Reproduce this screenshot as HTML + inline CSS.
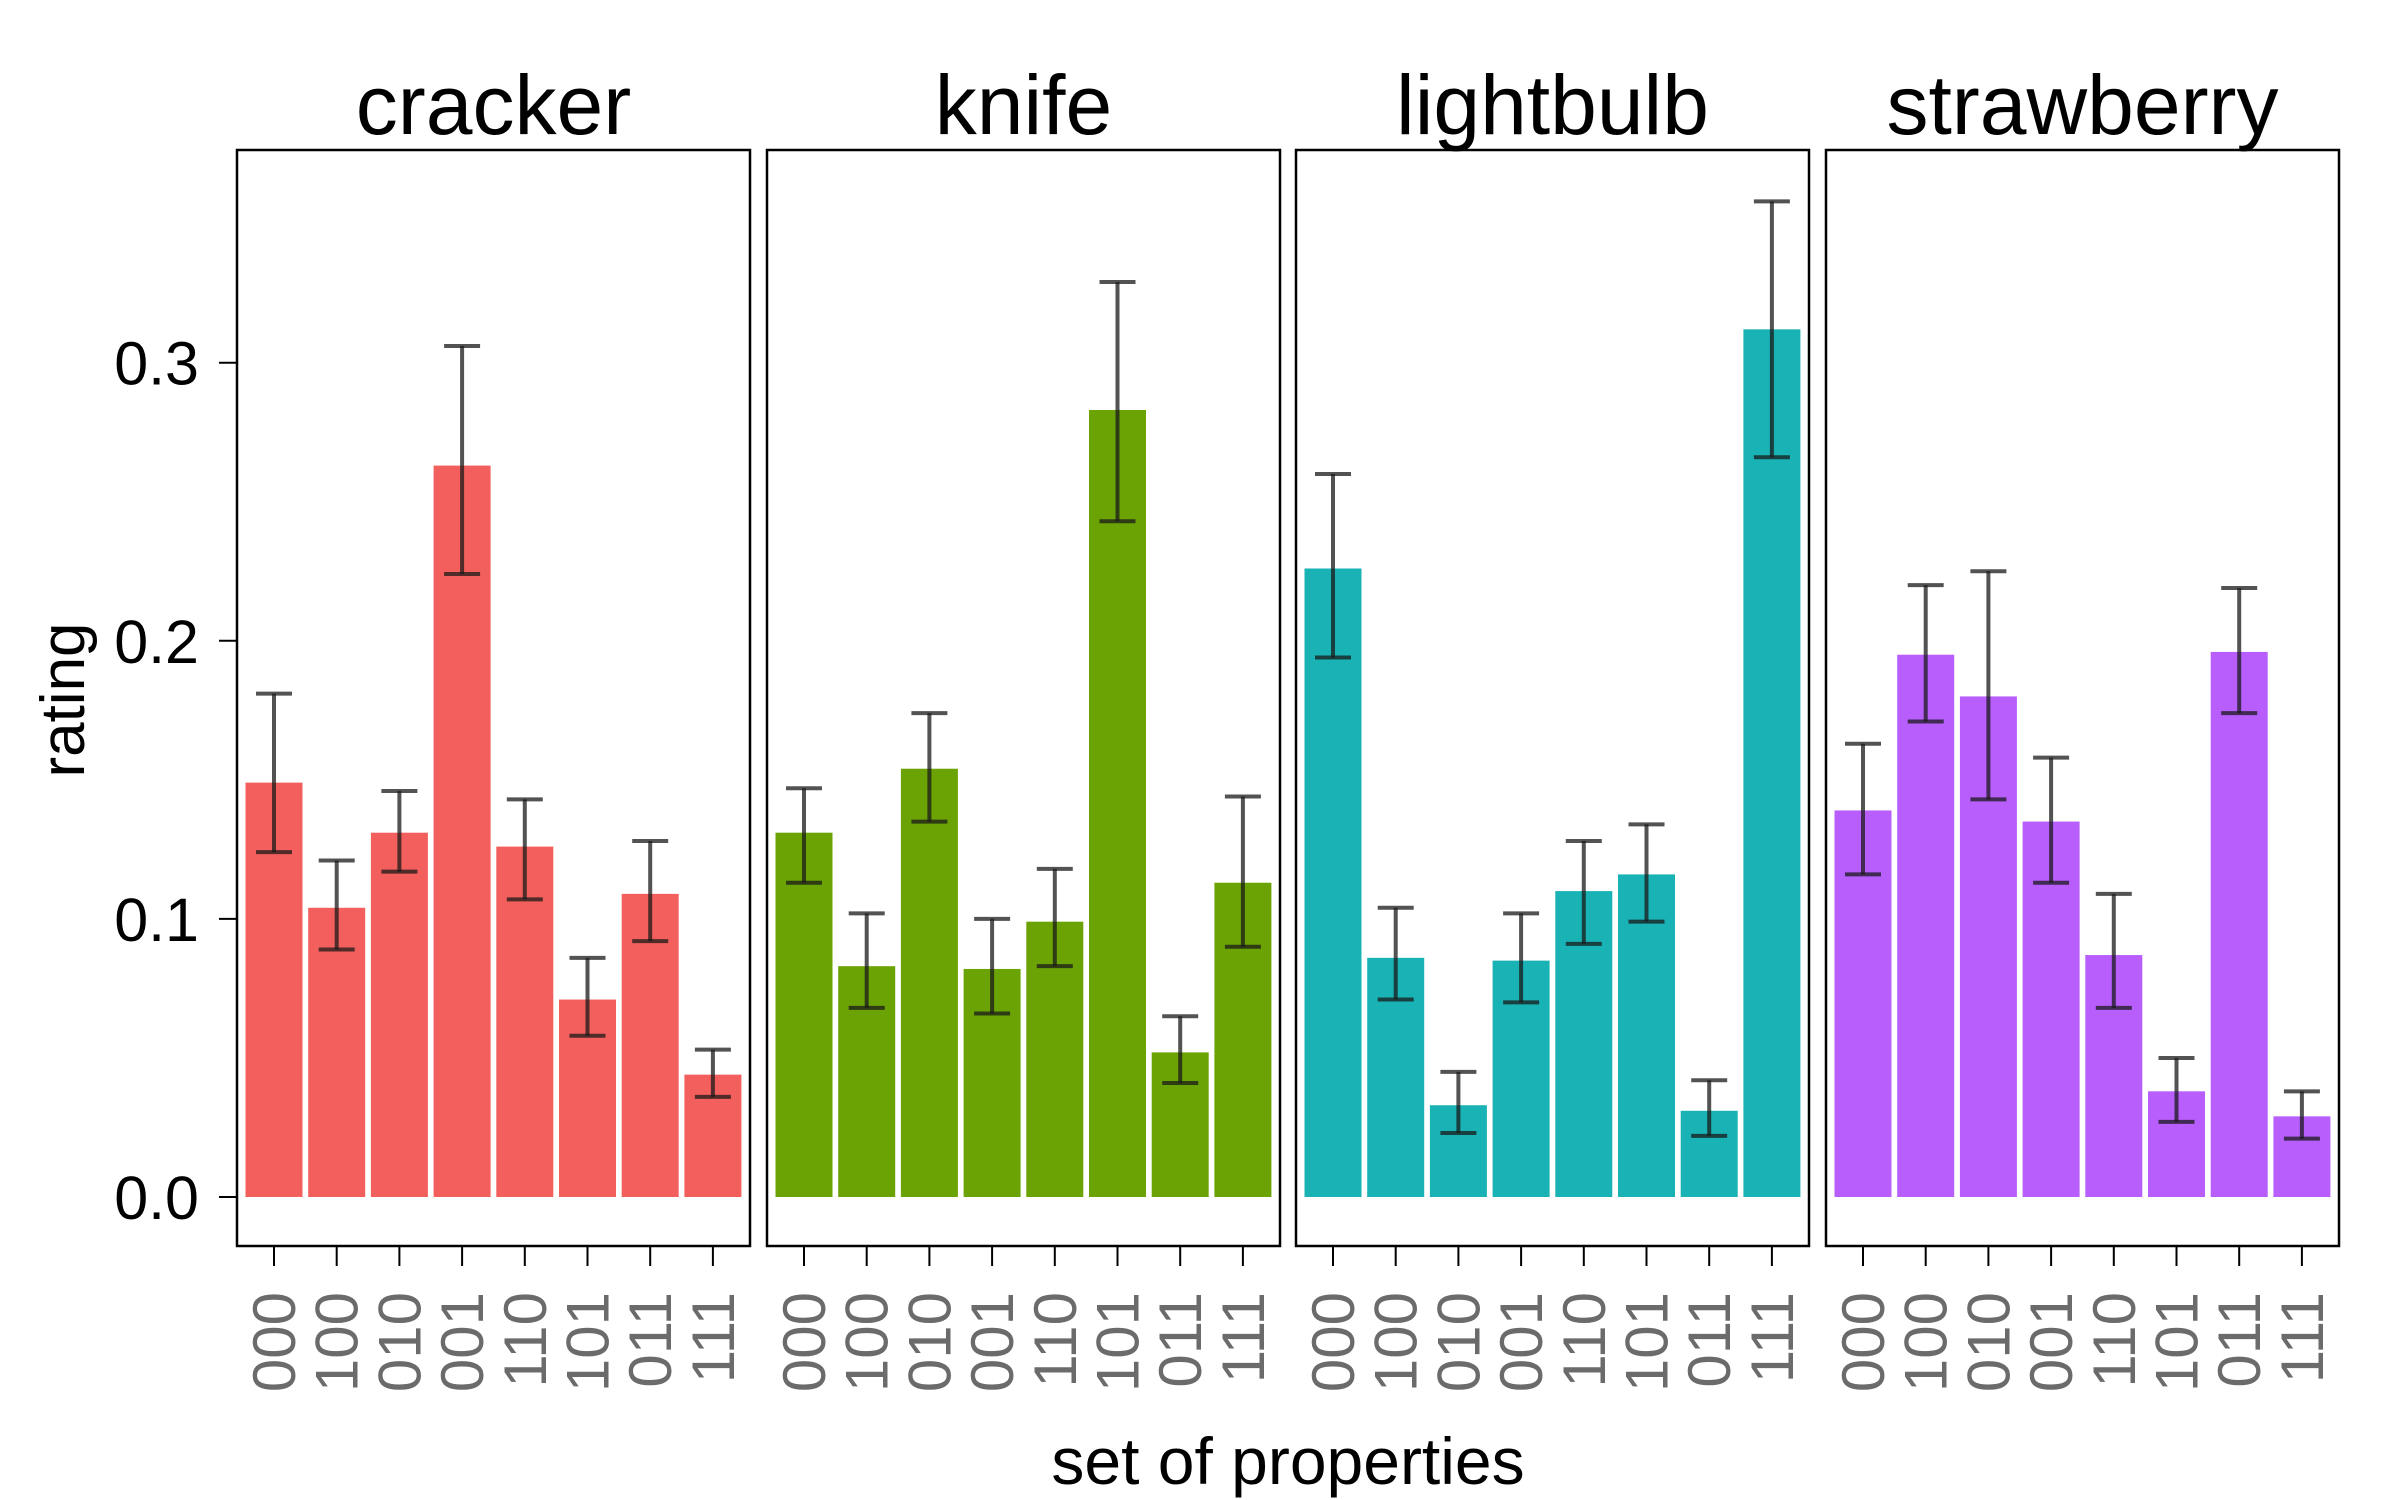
<!DOCTYPE html>
<html><head><meta charset="utf-8"><style>
html,body{margin:0;padding:0;background:#fff;}
svg{display:block;font-family:"Liberation Sans",sans-serif;}
</style></head><body>
<svg id="chart" width="2400" height="1500" viewBox="0 0 2400 1500" xmlns="http://www.w3.org/2000/svg"></svg>
<script>
const panels = ["cracker","knife","lightbulb","strawberry"];
const categories = ["000","100","010","001","110","101","011","111"];
const colors = ["#f25f5c","#6ba304","#19b3b6","#b75efd"];
const crackerVals = [0.149,0.104,0.131,0.263,0.126,0.071,0.109,0.044];
const crackerLo = [0.124,0.089,0.117,0.224,0.107,0.058,0.092,0.036];
const crackerHi = [0.181,0.121,0.146,0.306,0.143,0.086,0.128,0.053];
const knifeVals = [0.131,0.083,0.154,0.082,0.099,0.283,0.052,0.113];
const knifeLo = [0.113,0.068,0.135,0.066,0.083,0.243,0.041,0.090];
const knifeHi = [0.147,0.102,0.174,0.100,0.118,0.329,0.065,0.144];
const lightbulbVals = [0.226,0.086,0.033,0.085,0.110,0.116,0.031,0.312];
const lightbulbLo = [0.194,0.071,0.023,0.070,0.091,0.099,0.022,0.266];
const lightbulbHi = [0.260,0.104,0.045,0.102,0.128,0.134,0.042,0.358];
const strawberryVals = [0.139,0.195,0.180,0.135,0.087,0.038,0.196,0.029];
const strawberryLo = [0.116,0.171,0.143,0.113,0.068,0.027,0.174,0.021];
const strawberryHi = [0.163,0.220,0.225,0.158,0.109,0.050,0.219,0.038];
const yTicks = [0.0,0.1,0.2,0.3];
const yTickLabels = ["0.0","0.1","0.2","0.3"];

const vals=[crackerVals,knifeVals,lightbulbVals,strawberryVals];
const los=[crackerLo,knifeLo,lightbulbLo,strawberryLo];
const his=[crackerHi,knifeHi,lightbulbHi,strawberryHi];

const svg=document.getElementById('chart');
const NS="http://www.w3.org/2000/svg";
function mk(tag,attrs,parent){const e=document.createElementNS(NS,tag);for(const k in attrs)e.setAttribute(k,attrs[k]);(parent||svg).appendChild(e);return e;}
const panelLeft=[237,767,1296,1826], panelW=513, panelTop=150, panelBottom=1246;
const y0=1197, yPerUnit=(1197-362.7)/0.3;
function yScale(v){return y0-v*yPerUnit;}
const slot=62.7, barW=57;
function xScale(p,i){return panelLeft[p]+37+i*slot;}

yTicks.forEach((t,i)=>{
  const y=yScale(t);
  const tk=mk('line',{x1:219,x2:237,y1:y,y2:y,stroke:'#000','stroke-width':2});
  
  
  const tx=mk('text',{x:199,y:y+22,'text-anchor':'end','font-size':61,fill:'#000'});
  tx.textContent=yTickLabels[i];
  
  
});
const yt=mk('text',{x:0,y:0,transform:'translate(84,700) rotate(-90)','text-anchor':'middle','font-size':62,fill:'#000'});
yt.textContent='rating';


const xt=mk('text',{x:1288,y:1484,'text-anchor':'middle','font-size':66,fill:'#000'});
xt.textContent='set of properties';



panels.forEach((name,p)=>{
  const g=mk('g',{});
  
  
  const title=mk('text',{x:panelLeft[p]+panelW/2,y:134,'text-anchor':'middle','font-size':84,fill:'#000'},g);
  title.textContent=name;
  
  
  vals[p].forEach((v,i)=>{
    const cx=xScale(p,i);
    const b=mk('rect',{x:cx-barW/2,y:yScale(v),width:barW,height:y0-yScale(v),fill:colors[p]},g);
    
    
    const eb=mk('g',{stroke:'#1a1a1a','stroke-opacity':0.75,'stroke-width':4},g);
    
    
    const yl=yScale(los[p][i]), yh=yScale(his[p][i]);
    mk('line',{x1:cx,x2:cx,y1:yl,y2:yh},eb);
    mk('line',{x1:cx-18,x2:cx+18,y1:yl,y2:yl},eb);
    mk('line',{x1:cx-18,x2:cx+18,y1:yh,y2:yh},eb);
    const tk=mk('line',{x1:cx,x2:cx,y1:panelBottom,y2:panelBottom+20,stroke:'#000','stroke-width':2},g);
    
    
    const lb=mk('text',{x:0,y:0,transform:`translate(${cx+21},1292) rotate(-90)`,'text-anchor':'end','font-size':60,fill:'#6b6b6b'},g);
    lb.textContent=categories[i];
    
    
  });
  const fr=mk('rect',{x:panelLeft[p],y:panelTop,width:panelW,height:panelBottom-panelTop,fill:'none',stroke:'#000','stroke-width':2.5},g);
  
  
});
</script>
</body></html>
